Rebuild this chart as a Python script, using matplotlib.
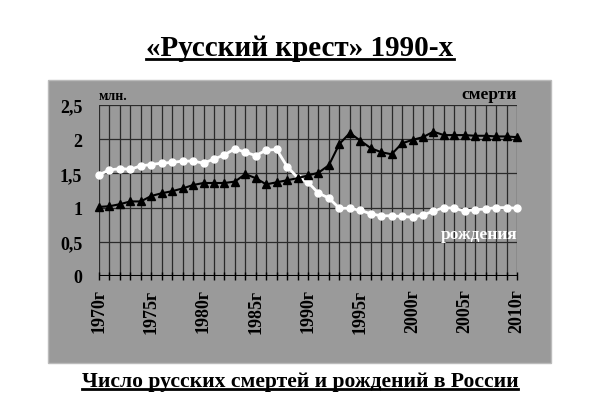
import matplotlib
matplotlib.use('Agg')
import matplotlib.pyplot as plt
from matplotlib.patches import Rectangle
from matplotlib.lines import Line2D

plt.rcParams['font.family'] = ['Liberation Serif', 'DejaVu Serif']
plt.rcParams['font.weight'] = 'bold'

years = list(range(1970, 2011))
births = [1.48, 1.55, 1.57, 1.56, 1.61, 1.63, 1.65, 1.66, 1.68, 1.68,
          1.65, 1.71, 1.77, 1.86, 1.81, 1.76, 1.84, 1.85, 1.60, 1.44,
          1.37, 1.21, 1.14, 0.99, 0.99, 0.96, 0.91, 0.88, 0.88, 0.87,
          0.86, 0.89, 0.95, 1.00, 0.99, 0.95, 0.97, 0.98, 1.00, 1.00,
          0.99]
deaths = [1.01, 1.02, 1.05, 1.09, 1.09, 1.17, 1.21, 1.24, 1.28, 1.33,
          1.36, 1.36, 1.36, 1.38, 1.49, 1.43, 1.34, 1.37, 1.40, 1.43,
          1.47, 1.51, 1.62, 1.93, 2.09, 1.98, 1.87, 1.81, 1.78, 1.94,
          1.99, 2.03, 2.11, 2.06, 2.06, 2.06, 2.05, 2.05, 2.04, 2.04,
          2.03]
y_ticks = [0, 0.5, 1, 1.5, 2, 2.5]
y_labels = ['0', '0,5', '1', '1,5', '2', '2,5']
x_ticks = list(range(1970, 2011, 5))
x_labels = [f'{y}г' for y in x_ticks]

gray = '#9a9a9a'
fig = plt.figure(figsize=(6, 4.14), dpi=100)
panel = Rectangle((48 / 600, 50 / 414), 503 / 600, 283 / 414,
                  transform=fig.transFigure, facecolor=gray,
                  edgecolor='#bbbbbb', lw=1, zorder=-1)
fig.add_artist(panel)

ax = fig.add_axes([99 / 600, 137 / 414, 418 / 600, 171 / 414])
ax.set_facecolor(gray)
ax.set_xlim(1970, 2010)
ax.set_ylim(0, 2.5)

for yr in years:
    ax.axvline(yr, color='#2a2a2a', lw=0.9, zorder=1)
for v in y_ticks[1:]:
    ax.axhline(v, color='#2a2a2a', lw=0.9, zorder=1)
ax.axhline(0, color='black', lw=1.5, zorder=2)

ax.plot(years, births, color='white', lw=2, marker='o', ms=5,
        mfc='white', mec='white', zorder=3, clip_on=False)
ax.plot(years, deaths, color='black', lw=1.5, marker='^', ms=5.5,
        mfc='black', mec='black', zorder=4, clip_on=False)

for s in ax.spines.values():
    s.set_visible(False)
ax.set_yticks(y_ticks)
ax.set_yticklabels(y_labels, fontsize=13, fontweight='bold')
ax.tick_params(axis='y', length=0, pad=12)
ax.set_xticks(x_ticks)
ax.set_xticklabels(x_labels, rotation=90, fontsize=13, fontweight='bold')
ax.set_xticks(years, minor=True)
ax.tick_params(axis='x', which='both', direction='inout', length=6,
               width=1, color='black', pad=6)

ax.text(0.0, 1.02, 'млн.', transform=ax.transAxes, fontsize=10,
        fontweight='bold', ha='left', va='bottom')
ax.text(1.0, 1.015, 'смерти', transform=ax.transAxes, fontsize=12.5,
        fontweight='bold', ha='right', va='bottom')
ax.text(2010, 0.62, 'рождения', fontsize=12.5, fontweight='bold',
        color='white', ha='right', va='center', zorder=5)

t1 = fig.text(0.5, 1 - 49 / 414, '«Русский крест» 1990-х', fontsize=21,
              fontweight='bold', ha='center', va='center')
t2 = fig.text(0.5, 1 - 382 / 414, 'Число русских смертей и рождений в России',
              fontsize=15.6, fontweight='bold', ha='center', va='center')

fig.canvas.draw()
r = fig.canvas.get_renderer()
for t in (t1, t2):
    bb = t.get_window_extent(r).transformed(fig.transFigure.inverted())
    y = bb.y0 + 0.006
    fig.add_artist(Line2D([bb.x0, bb.x1], [y, y], color='black', lw=2,
                          transform=fig.transFigure))

fig.savefig('out.png', dpi=100)
